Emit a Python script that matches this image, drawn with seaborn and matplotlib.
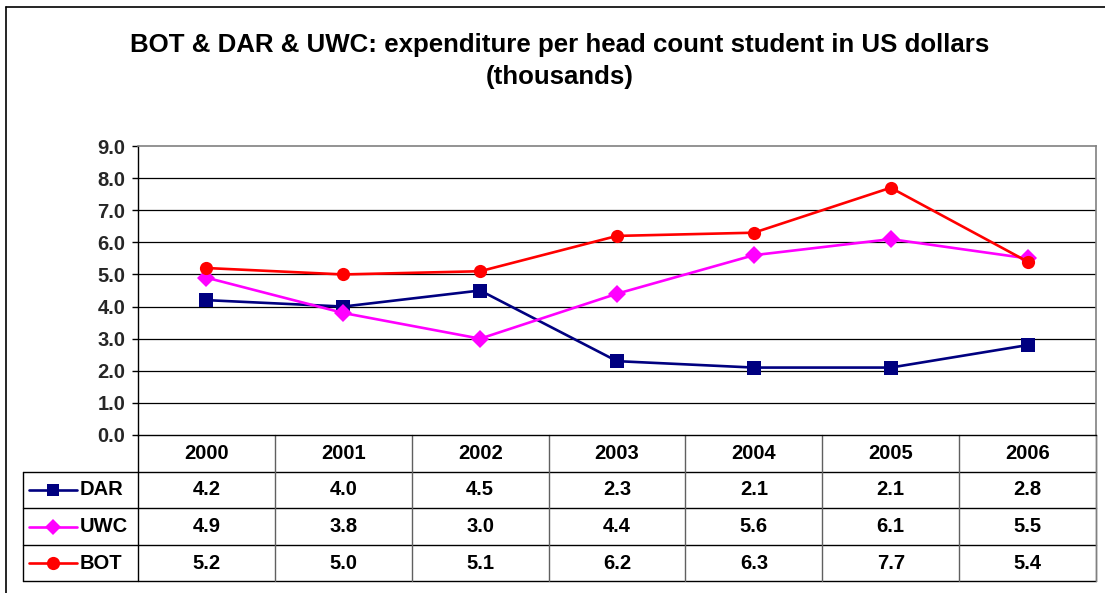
import numpy as np
import pandas as pd
import matplotlib.pyplot as plt
import seaborn as sns
from matplotlib.lines import Line2D

# chart data
years = ["2000", "2001", "2002", "2003", "2004", "2005", "2006"]
series_names = ["DAR", "UWC", "BOT"]
dar = [4.2, 4.0, 4.5, 2.3, 2.1, 2.1, 2.8]
uwc = [4.9, 3.8, 3.0, 4.4, 5.6, 6.1, 5.5]
bot = [5.2, 5.0, 5.1, 6.2, 6.3, 7.7, 5.4]
y_ticks = [0.0, 1.0, 2.0, 3.0, 4.0, 5.0, 6.0, 7.0, 8.0, 9.0]

title = "BOT & DAR & UWC: expenditure per head count student in US dollars\n(thousands)"

colors = {"DAR": "#000080", "UWC": "#FF00FF", "BOT": "#FF0000"}
markers = {"DAR": "s", "UWC": "D", "BOT": "o"}
msizes = {"DAR": 8.5, "UWC": 8.5, "BOT": 9.5}

values = {"DAR": dar, "UWC": uwc, "BOT": bot}
df = pd.DataFrame({
    "year": years * 3,
    "value": dar + uwc + bot,
    "series": [s for s in series_names for _ in years],
})

sns.set_theme(style="white")
plt.rcParams["font.family"] = ["Liberation Sans", "DejaVu Sans"]
plt.rcParams["font.weight"] = "bold"

W, H = 1105, 593
fs = 14.5
fig = plt.figure(figsize=(W / 100, H / 100), dpi=100)
fig.patch.set_facecolor("white")

# plot area in pixel terms
left_px, right_px, top_px, bottom_px = 138, 1096, 146, 435
ax = fig.add_axes([left_px / W, 1 - bottom_px / H,
                   (right_px - left_px) / W, (bottom_px - top_px) / H])

sns.lineplot(data=df, x="year", y="value", hue="series", style="series",
             hue_order=series_names, style_order=series_names,
             palette=colors, markers=markers, dashes=False, sort=False,
             linewidth=1.9, markersize=9.5, markeredgewidth=0, legend=False, ax=ax)

ax.set_xlim(-0.5, len(years) - 0.5)
ax.set_ylim(0, 9)
ax.set_yticks(y_ticks)
ax.set_yticklabels([f"{t:.1f}" for t in y_ticks], fontsize=fs, fontweight="bold")
ax.set_xticks([])
ax.set_xlabel("")
ax.set_ylabel("")
ax.tick_params(axis="y", direction="out", length=4, width=1, color="black",
               left=True, pad=5)
for t in y_ticks[1:-1]:
    ax.axhline(t, color="black", lw=0.9, zorder=0)
for side in ["left", "bottom"]:
    ax.spines[side].set_color("black")
    ax.spines[side].set_linewidth(1)
for side in ["top", "right"]:
    ax.spines[side].set_color("#808080")
    ax.spines[side].set_linewidth(1.2)

# data table under the plot
trans = ax.get_xaxis_transform()
axh = bottom_px - top_px
row_h = 36.6 / axh
px_unit = (right_px - left_px) / len(years)
x_tab_left = -0.5 - (left_px - 23) / px_unit
n_rows = len(series_names) + 1
y_bottom = -n_rows * row_h

def hline(x0, x1, y, color="black"):
    ax.add_line(Line2D([x0, x1], [y, y], transform=trans, color=color,
                       lw=1, clip_on=False))

def vline(x, y0, y1, color="#505050"):
    ax.add_line(Line2D([x, x], [y0, y1], transform=trans, color=color,
                       lw=1, clip_on=False))

for r in range(1, n_rows + 1):
    hline(x_tab_left, len(years) - 0.5, -r * row_h)
for k in range(len(years) + 1):
    vline(-0.5 + k, 0, y_bottom, color="black" if k == 0 else "#606060")
vline(x_tab_left, -row_h, y_bottom, color="black")
vline(len(years) - 0.5, 0, y_bottom, color="#808080")

for i, yr in enumerate(years):
    ax.text(i, -0.5 * row_h, yr, transform=trans, ha="center", va="center",
            fontsize=fs, fontweight="bold", color="black")

key_x0 = -0.5 - (left_px - 29) / px_unit
key_x1 = -0.5 - (left_px - 77) / px_unit
key_xm = (key_x0 + key_x1) / 2
label_x = -0.5 - (left_px - 80) / px_unit
for r, name in enumerate(series_names):
    yc = -(r + 1.5) * row_h
    ax.add_line(Line2D([key_x0, key_x1], [yc, yc], transform=trans,
                       color=colors[name], lw=1.9, clip_on=False))
    ax.add_line(Line2D([key_xm], [yc], transform=trans, marker=markers[name],
                       markersize=msizes[name], color=colors[name],
                       markeredgewidth=0, clip_on=False))
    ax.text(label_x, yc, name, transform=trans, ha="left", va="center",
            fontsize=fs, fontweight="bold", color="black")
    for i, v in enumerate(values[name]):
        ax.text(i, yc, f"{v:.1f}", transform=trans, ha="center", va="center",
                fontsize=fs, fontweight="bold", color="black")

# title
fig.text(560 / W, 1 - 33 / H, title, ha="center", va="top", fontsize=18.6,
         fontweight="bold", color="black", linespacing=1.4)

# chart area border (left and top edges visible)
fig.add_artist(Line2D([6 / W, 6 / W], [0, 1 - 7 / H], transform=fig.transFigure,
                      color="black", lw=1.2))
fig.add_artist(Line2D([6 / W, 1], [1 - 7 / H, 1 - 7 / H], transform=fig.transFigure,
                      color="black", lw=1.2))

fig.savefig("out.png", dpi=100)
